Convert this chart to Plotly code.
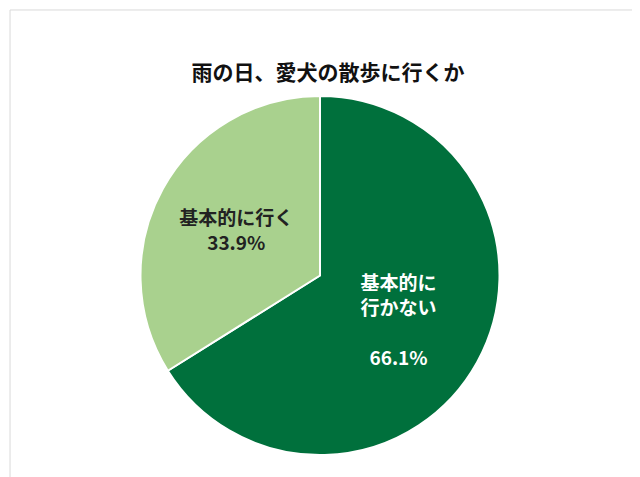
import plotly.graph_objects as go

labels = ["基本的に<br>行かない", "基本的に行く"]
values = [66.1, 33.9]
pcts = ["66.1%", "33.9%"]
colors = ["#00703C", "#A9D18E"]

fig = go.Figure()
fig.add_trace(go.Pie(
    labels=labels,
    values=values,
    sort=False,
    direction="clockwise",
    rotation=0,
    marker=dict(colors=colors, line=dict(color="white", width=2)),
    text=[f"<b>{l}<br><br>{p}</b>" if i == 0 else f"<b>{l}<br>{p}</b>" for i, (l, p) in enumerate(zip(labels, pcts))],
    textinfo="text",
    textposition="inside",
    insidetextorientation="horizontal",
    textfont=dict(family="Noto Sans CJK JP", size=19, color=["white", "#222222"]),
    showlegend=False,
    hoverinfo="label+percent",
))

fig.update_layout(
    width=640, height=477,
    title=dict(text="<b>雨の日、愛犬の散歩に行くか</b>", x=0.5, y=0.864, xanchor="center", yanchor="middle",
               font=dict(family="Noto Sans CJK JP", size=21, color="#111111")),
    margin=dict(l=132, r=148, t=88, b=30),
    paper_bgcolor="white",
    uniformtext=dict(minsize=19, mode="show"),
    shapes=[dict(type="rect", xref="paper", yref="paper", x0=-0.361, x1=1.406, y0=-0.078, y1=1.2396,
                 line=dict(color="#D9D9D9", width=1))],
)

fig.write_html("out.html")
